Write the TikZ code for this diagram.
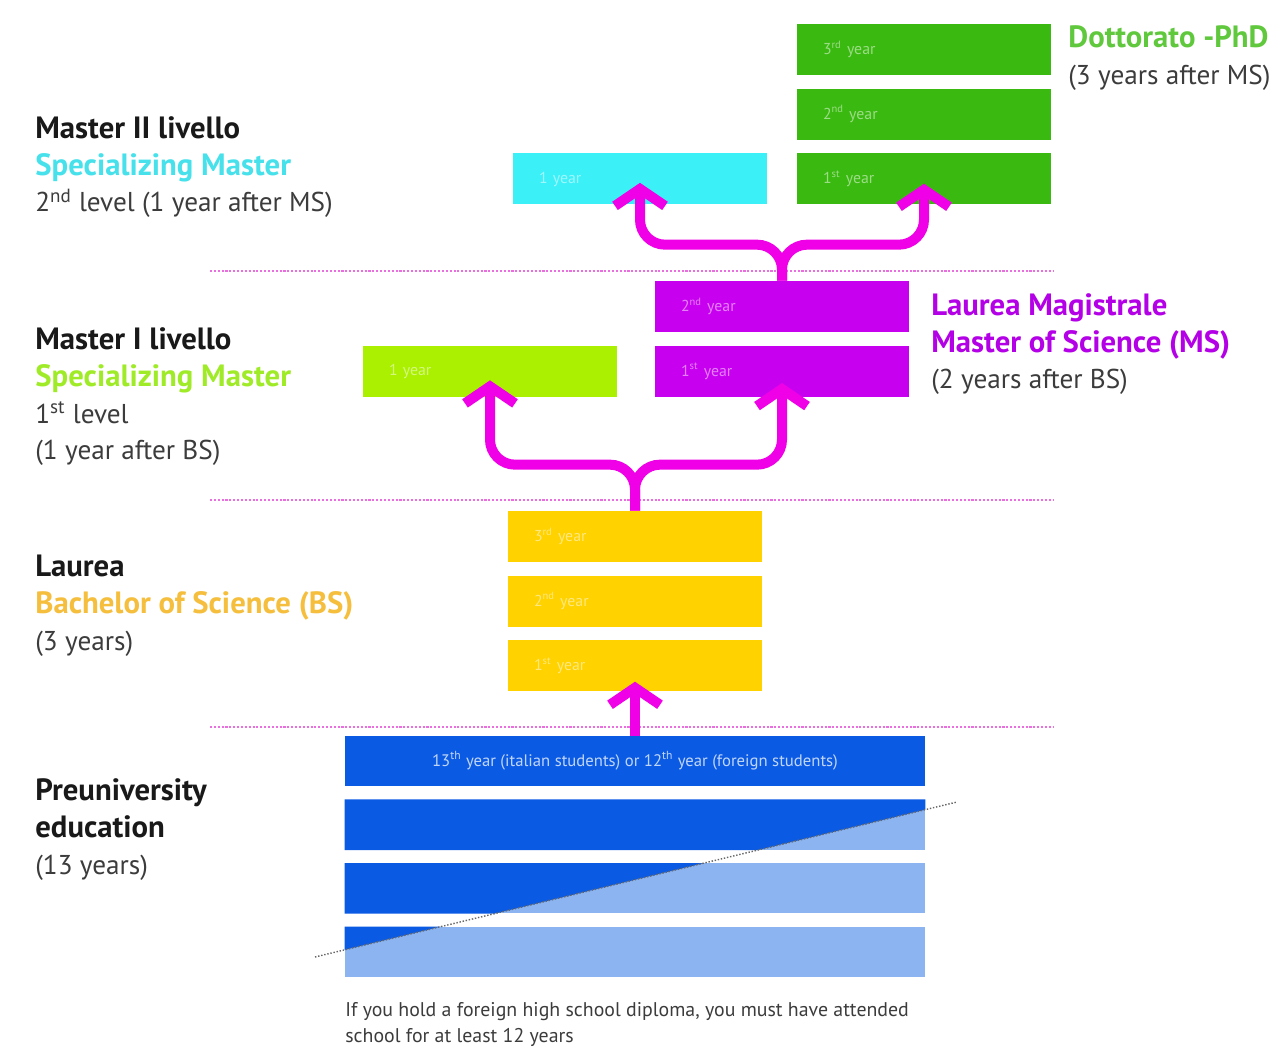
\documentclass[tikz,border=0pt]{standalone}
\usepackage{fontspec}
\setmainfont{PT Sans}
\usetikzlibrary{positioning, arrows.meta}
\definecolor{phdgreen}{RGB}{58,186,16}
\definecolor{speccyan}{RGB}{60,240,248}
\definecolor{speclime}{RGB}{170,240,0}
\definecolor{msviolet}{RGB}{200,0,240}
\definecolor{bsyellow}{RGB}{255,210,0}
\definecolor{preblue}{RGB}{10,90,228}
\definecolor{prelight}{RGB}{140,180,240}
\definecolor{flowmag}{RGB}{240,0,230}
\definecolor{dotpink}{RGB}{235,110,225}
\definecolor{textgray}{RGB}{60,60,60}
\definecolor{titleblack}{RGB}{25,25,25}
\definecolor{cyantext}{RGB}{70,225,235}
\definecolor{limetext}{RGB}{160,235,40}
\definecolor{bstext}{RGB}{245,190,60}
\definecolor{phdtext}{RGB}{95,200,60}
\definecolor{mstext}{RGB}{180,0,230}
\newcommand{\stagehead}[2]{\textcolor{#1}{\fontsize{17.5}{21}\selectfont\bfseries #2}}
\tikzstyle{yearbox} = [rectangle, minimum width=5.08cm, minimum height=1.02cm, text width=4.04cm, align=left, inner sep=0pt, font=\fontsize{9}{10}\selectfont, text=white, text opacity=0.5]
\tikzstyle{prebox} = [rectangle, minimum width=11.6cm, minimum height=1.0cm, inner sep=0pt, fill=prelight]
\tikzstyle{stagelabel} = [anchor=north west, align=left, inner sep=0pt, font=\fontsize{15.5}{21}\selectfont, text=textgray]
\tikzstyle{progress} = [line width=0.2cm, draw=flowmag, -{Straight Barb[length=0.34cm,width=1.0cm]}, rounded corners=0.5cm]
\tikzstyle{levelline} = [densely dotted, line width=1.2pt, draw=dotpink]

\begin{document}
\begin{tikzpicture}[x=0.02cm, y=-0.02cm, node distance=0.26cm]
\fill[white] (0,0) rectangle (1279,1050);
\useasboundingbox (0,0) rectangle (1279,1050);

% year boxes
\node (phd3) [yearbox, fill=phdgreen] at (924,49.5) {3\textsuperscript{rd} year};
\node (phd2) [yearbox, fill=phdgreen, below=of phd3] {2\textsuperscript{nd} year};
\node (phd1) [yearbox, fill=phdgreen, below=of phd2] {1\textsuperscript{st} year};
\node (spec2) [yearbox, fill=speccyan] at (640,179) {1 year};
\node (ms2) [yearbox, fill=msviolet] at (782,306.5) {2\textsuperscript{nd} year};
\node (ms1) [yearbox, fill=msviolet, below=of ms2] {1\textsuperscript{st} year};
\node (spec1) [yearbox, fill=speclime] at (490,371.5) {1 year};
\node (bs3) [yearbox, fill=bsyellow] at (635,536.5) {3\textsuperscript{rd} year};
\node (bs2) [yearbox, fill=bsyellow, below=of bs3] {2\textsuperscript{nd} year};
\node (bs1) [yearbox, fill=bsyellow, below=of bs2] {1\textsuperscript{st} year};

% preuniversity
\node (pre1) [prebox, fill=preblue, text=white, text opacity=0.75, font=\fontsize{9.5}{11}\selectfont] at (635,761) {13\textsuperscript{th} year (italian students) or 12\textsuperscript{th} year (foreign students)};
\node (pre2) [prebox, below=of pre1] {};
\node (pre3) [prebox, below=of pre2] {};
\node (pre4) [prebox, below=of pre3] {};
\coordinate (diag1) at (315,957);
\coordinate (diag2) at (957,802);
\begin{scope}
\clip (pre2.north west) rectangle (pre2.south east)
      (pre3.north west) rectangle (pre3.south east)
      (pre4.north west) rectangle (pre4.south east);
\fill[preblue] (diag1) -- (diag2) -- (957,700) -- (315,700) -- cycle;
\end{scope}
\draw[densely dotted, line width=0.8pt, draw=black!60] (diag1) -- (diag2);

% level separators
\draw[levelline] (210,271) -- (1053,271);
\draw[levelline] (210,500) -- (1053,500);
\draw[levelline] (210,727) -- (1053,727);

% arrows
\coordinate (fork1) at ([yshift=0.92cm]bs3.north);
\coordinate (fork2) at ([yshift=0.72cm]ms2.north);
\draw[progress] (pre1.north) -- ([yshift=0.2cm]bs1.south);
\draw[progress] (bs3.north) -- (fork1) -| ([yshift=0.34cm]spec1.south);
\draw[progress] (bs3.north) -- (fork1) -| ([yshift=0.28cm]ms1.south);
\draw[progress] (ms2.north) -- (fork2) -| ([yshift=0.44cm]spec2.south);
\draw[progress] (ms2.north) -- (fork2) -| ([yshift=0.42cm]phd1.south);

% labels
\node (m2label) [stagelabel] at (35,116) {\stagehead{titleblack}{Master II livello}\\\stagehead{cyantext}{Specializing Master}\\2\textsuperscript{nd} level (1 year after MS)};
\node (m1label) [stagelabel] at (35,327) {\stagehead{titleblack}{Master I livello}\\\stagehead{limetext}{Specializing Master}\\1\textsuperscript{st} level\\(1 year after BS)};
\node (bslabel) [stagelabel] at (35,555) {\stagehead{titleblack}{Laurea}\\\stagehead{bstext}{Bachelor of Science (BS)}\\(3 years)};
\node (prelabel) [stagelabel] at (35,778) {\stagehead{titleblack}{Preuniversity}\\\stagehead{titleblack}{education}\\(13 years)};
\node (phdlabel) [stagelabel] at (1068,25) {\stagehead{phdtext}{Dottorato -PhD}\\(3 years after MS)};
\node (mslabel) [stagelabel] at (931,293) {\stagehead{mstext}{Laurea Magistrale}\\\stagehead{mstext}{Master of Science (MS)}\\(2 years after BS)};
\node (note) [anchor=north west, align=left, inner sep=0pt, font=\fontsize{11.3}{15}\selectfont, text=textgray] at (345,1002) {If you hold a foreign high school diploma, you must have attended\\school for at least 12 years};
\end{tikzpicture}
\end{document}
